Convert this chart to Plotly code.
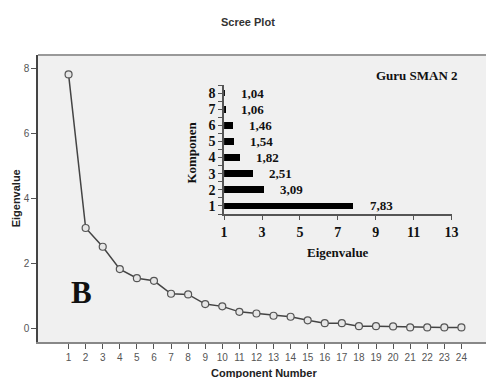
import plotly.graph_objects as go

# Main scree plot data
components = list(range(1, 25))
eigenvalues = [7.83, 3.09, 2.51, 1.82, 1.54, 1.46, 1.06, 1.04, 0.74, 0.67, 0.50, 0.45,
               0.38, 0.35, 0.24, 0.15, 0.15, 0.06, 0.06, 0.05, 0.02, 0.02, 0.02, 0.02]

# Inset bar data
inset_components = [1, 2, 3, 4, 5, 6, 7, 8]
inset_values = [7.83, 3.09, 2.51, 1.82, 1.54, 1.46, 1.06, 1.04]
inset_labels = ["7,83", "3,09", "2,51", "1,82", "1,54", "1,46", "1,06", "1,04"]
inset_xticks = [1, 3, 5, 7, 9, 11, 13]

W, H = 493, 378
L, R, T, B = 38, 0, 55, 36
PW, PH = W - L - R, H - T - B

def xp(px):
    return (px - L) / PW

def yp(py):
    return (H - B - py) / PH

serif = "Liberation Serif, Times New Roman, serif"
sans = "Liberation Sans, Arial, sans-serif"

fig = go.Figure()

fig.add_trace(go.Scatter(
    x=components, y=eigenvalues, mode="lines+markers",
    line=dict(color="#444444", width=1.5),
    marker=dict(symbol="circle", size=7, color="#e6e6e6",
                line=dict(color="#555555", width=1.2)),
    xaxis="x", yaxis="y", showlegend=False, cliponaxis=False,
))

fig.add_trace(go.Bar(
    x=[v - 1 for v in inset_values], y=inset_components, base=1, orientation="h",
    marker=dict(color="black", line=dict(width=0)), width=0.42,
    xaxis="x2", yaxis="y2", showlegend=False,
))

annotations = []
for v, c, t in zip(inset_values, inset_components, inset_labels):
    annotations.append(dict(
        x=v, y=c, xref="x2", yref="y2", text="<b>" + t + "</b>", showarrow=False,
        xanchor="left", yanchor="middle", xshift=14,
        font=dict(family=serif, size=13, color="#111111"),
    ))

annotations += [
    dict(x=xp(467), y=yp(75), xref="paper", yref="paper", text="<b>Guru SMAN 2</b>",
         showarrow=False, xanchor="right", yanchor="middle",
         font=dict(family=serif, size=13, color="#111111")),
    dict(x=xp(343), y=yp(252), xref="paper", yref="paper", text="<b>Eigenvalue</b>",
         showarrow=False, xanchor="center", yanchor="middle",
         font=dict(family=serif, size=13, color="#111111")),
    dict(x=xp(193), y=yp(153), xref="paper", yref="paper", text="<b>Komponen</b>",
         showarrow=False, xanchor="center", yanchor="middle", textangle=-90,
         font=dict(family=serif, size=13, color="#111111")),
    dict(x=xp(82), y=yp(292), xref="paper", yref="paper", text="<b>B</b>",
         showarrow=False, xanchor="center", yanchor="middle",
         font=dict(family=serif, size=31, color="#111111")),
    dict(x=xp(268), y=yp(373), xref="paper", yref="paper", text="<b>Component Number</b>",
         showarrow=False, xanchor="center", yanchor="middle",
         font=dict(family=sans, size=11, color="#222222")),
    dict(x=xp(16), y=yp(198), xref="paper", yref="paper", text="<b>Eigenvalue</b>",
         showarrow=False, xanchor="center", yanchor="middle", textangle=-90,
         font=dict(family=sans, size=11, color="#222222")),
    dict(x=xp(251), y=yp(22), xref="paper", yref="paper", text="<b>Scree Plot</b>",
         showarrow=False, xanchor="center", yanchor="middle",
         font=dict(family=sans, size=11, color="#333333")),
]

fig.update_layout(
    width=W, height=H,
    margin=dict(l=L, r=R, t=T, b=B, pad=0),
    paper_bgcolor="white",
    plot_bgcolor="#f0f0f0",
    bargap=0,
    xaxis=dict(
        domain=[0, 1], range=[-0.79, 25.44], tickvals=components,
        ticks="outside", ticklen=5, tickcolor="#555555", tickwidth=1,
        showgrid=False, zeroline=False, showline=True, linecolor="#888888", linewidth=1.5,
        tickfont=dict(family=sans, size=10, color="#555555"),
    ),
    yaxis=dict(
        domain=[0, 1], range=[-0.43, 8.43], tickvals=[0, 2, 4, 6, 8],
        ticks="outside", ticklen=5, tickcolor="#555555", tickwidth=1,
        showgrid=False, zeroline=False, showline=True, linecolor="#444444", linewidth=1.5,
        tickfont=dict(family=sans, size=10, color="#555555"),
    ),
    xaxis2=dict(
        domain=[xp(227), xp(458)], range=[1, 13], tickvals=inset_xticks,
        anchor="y2", ticks="outside", ticklen=4, tickcolor="#555555",
        showgrid=False, zeroline=False, showline=True, linecolor="#555555", linewidth=1.5,
        tickfont=dict(family=serif, size=14, color="#111111", weight="bold"),
    ),
    yaxis2=dict(
        domain=[yp(214), yp(85)], range=[0.5, 8.5], tickvals=inset_components,
        anchor="x2", ticks="outside", ticklen=4, tickcolor="#555555",
        minor=dict(ticks="outside", dtick=0.5, tick0=0.5, ticklen=4, tickcolor="#555555"),
        showgrid=False, zeroline=False, showline=True, linecolor="#555555", linewidth=1.5,
        tickfont=dict(family=serif, size=14, color="#111111", weight="bold"),
    ),
    annotations=annotations,
    shapes=[dict(type="line", xref="paper", yref="paper", x0=0, x1=1, y0=1, y1=1,
                 line=dict(color="#999999", width=2))],
)

fig.write_html("out.html")
